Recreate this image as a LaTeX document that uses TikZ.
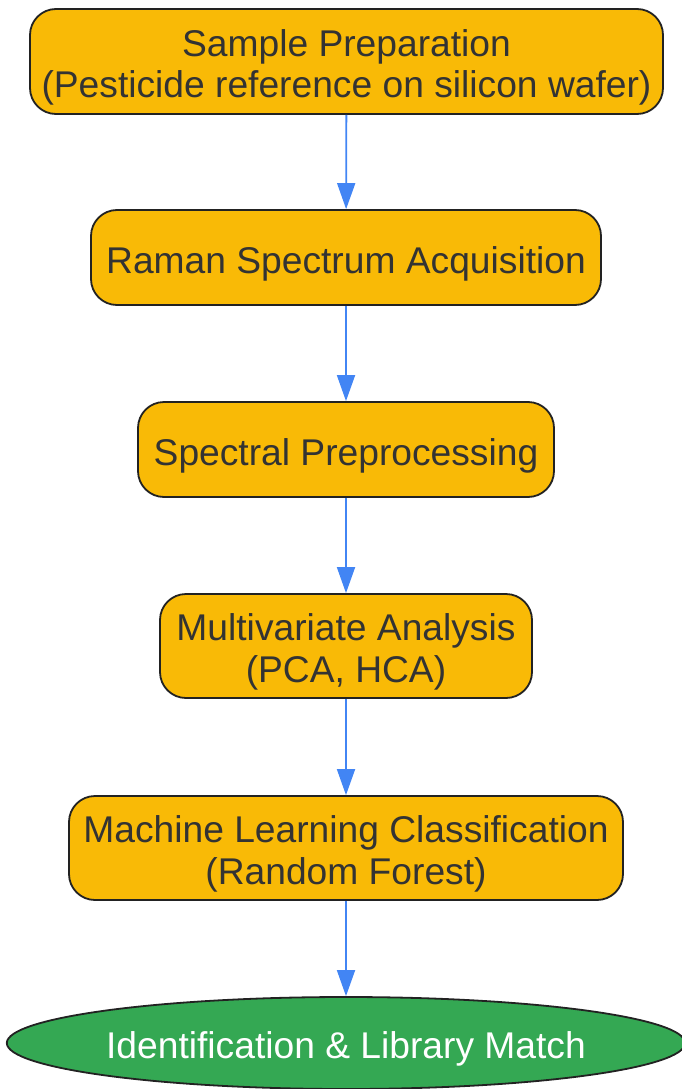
\documentclass[tikz,border=0pt]{standalone}
\usepackage{fontspec}
\setmainfont{Liberation Sans}
\usetikzlibrary{arrows.meta,shapes.geometric}
\definecolor{boxfill}{RGB}{249,186,6}
\definecolor{boxline}{RGB}{34,34,34}
\definecolor{txt}{RGB}{51,51,51}
\definecolor{endfill}{RGB}{52,168,83}
\definecolor{arrowblue}{RGB}{66,133,244}
\newcommand{\topstrut}{\rule{0pt}{39pt}}
\tikzset{
  stepbox/.style={draw=boxline, line width=1.8pt, fill=boxfill, rounded corners=26pt,
    inner sep=0pt, align=center, text=txt,
    font=\fontsize{37.2}{41.5}\selectfont},
  endnode/.style={ellipse, draw=boxline, line width=1.8pt, fill=endfill, inner sep=0pt,
    text=white, font=\fontsize{37.2}{41.5}\selectfont},
  flow/.style={draw=arrowblue, line width=1.8pt, -{Triangle[length=26pt,width=18pt]}}
}
\begin{document}
\begin{tikzpicture}[x=1pt,y=-1pt]
\useasboundingbox (0,0) rectangle (682,1089);
\node[stepbox, minimum width=633pt, minimum height=105pt] (n1) at (346.5,61.5)
  {\topstrut Sample Preparation\\(Pesticide reference on silicon wafer)};
\node[stepbox, minimum width=510pt, minimum height=95pt] (n2) at (346,257.5)
  {\topstrut Raman Spectrum Acquisition};
\node[stepbox, minimum width=416pt, minimum height=95pt] (n3) at (346,449.5)
  {\topstrut Spectral Preprocessing};
\node[stepbox, minimum width=372pt, minimum height=104pt] (n4) at (346,646)
  {\topstrut Multivariate Analysis\\(PCA, HCA)};
\node[stepbox, minimum width=554pt, minimum height=104pt] (n5) at (346,848)
  {\topstrut Machine Learning Classification\\(Random Forest)};
\node[endnode, minimum width=678pt, minimum height=92pt] (n6) at (346,1043)
  {\topstrut Identification \& Library Match};
\draw[flow] (n1) -- (n2);
\draw[flow] (n2) -- (n3);
\draw[flow] (n3) -- (n4);
\draw[flow] (n4) -- (n5);
\draw[flow] (n5) -- (n6);
\end{tikzpicture}
\end{document}
